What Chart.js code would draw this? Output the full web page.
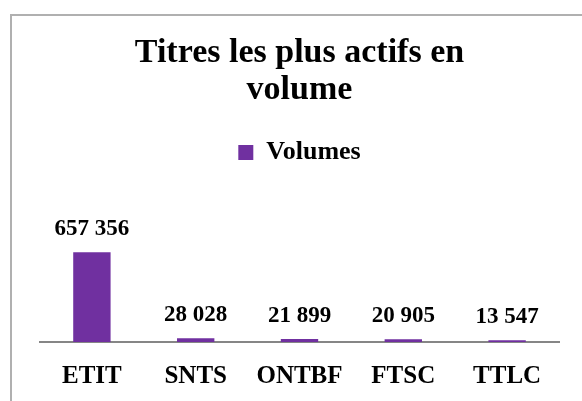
<!doctype html>
<html lang="fr">
<head>
  <meta charset="UTF-8" />
  <title>Titres les plus actifs en volume</title>
  <script src="https://cdn.jsdelivr.net/npm/chart.js@4.4.4/dist/chart.umd.min.js"></script>
  <style>
    html, body {
      margin: 0;
      padding: 0;
      background: #ffffff;
      overflow: hidden;
    }
    .wrap {
      position: relative;
      width: 582px;
      height: 401px;
    }
    .frame {
      position: absolute;
      left: 10px;
      top: 14px;
      width: 640px;
      height: 440px;
      border: 2px solid #b0b0b0;
    }
    canvas {
      position: absolute;
      left: 0;
      top: 0;
    }
  </style>
</head>
<body>
  <div class="wrap">
    <div class="frame"></div>
    <canvas id="volChart" width="582" height="401"></canvas>
  </div>

  <script>
    const titleLines = ['Titres les plus actifs en', 'volume'];
    const seriesName = 'Volumes';
    const categories = ['ETIT', 'SNTS', 'ONTBF', 'FTSC', 'TTLC'];
    const volumes = [657356, 28028, 21899, 20905, 13547];

    const purple = '#7030a0';
    const fontFamily = '"Liberation Serif", "Times New Roman", serif';

    function formatVolume(v) {
      return String(v).replace(/\B(?=(\d{3})+(?!\d))/g, ' ');
    }

    // draws the value above each bar
    const valueLabels = {
      id: 'valueLabels',
      afterDatasetsDraw(chart) {
        const ctx = chart.ctx;
        const meta = chart.getDatasetMeta(0);
        ctx.save();
        ctx.font = 'bold 23px ' + fontFamily;
        ctx.fillStyle = '#000000';
        ctx.textAlign = 'center';
        ctx.textBaseline = 'alphabetic';
        meta.data.forEach((bar, i) => {
          ctx.fillText(formatVolume(volumes[i]), bar.x, bar.y - 17);
        });
        ctx.restore();
      }
    };

    new Chart(document.getElementById('volChart'), {
      type: 'bar',
      data: {
        labels: categories,
        datasets: [{
          label: seriesName,
          data: volumes,
          backgroundColor: purple,
          borderWidth: 0,
          categoryPercentage: 1,
          barPercentage: 0.36
        }]
      },
      options: {
        responsive: false,
        animation: false,
        layout: {
          padding: { left: 40, right: 23, top: 34, bottom: -11 }
        },
        plugins: {
          title: {
            display: true,
            text: titleLines,
            color: '#000000',
            font: { family: fontFamily, size: 34, weight: 'bold', lineHeight: 1.11 },
            padding: { top: 0, bottom: 20 }
          },
          legend: {
            display: true,
            labels: {
              color: '#000000',
              font: { family: fontFamily, size: 26, weight: 'bold' },
              boxWidth: 15,
              boxHeight: 15,
              padding: 10
            }
          },
          tooltip: { enabled: false }
        },
        scales: {
          x: {
            grid: { display: false, drawTicks: false },
            border: { display: true, color: '#868686', width: 2 },
            ticks: {
              color: '#000000',
              font: { family: fontFamily, size: 25, weight: 'bold' },
              padding: 20
            }
          },
          y: {
            display: false,
            min: 0,
            max: 1220000
          }
        }
      },
      plugins: [valueLabels]
    });
  </script>
</body>
</html>
